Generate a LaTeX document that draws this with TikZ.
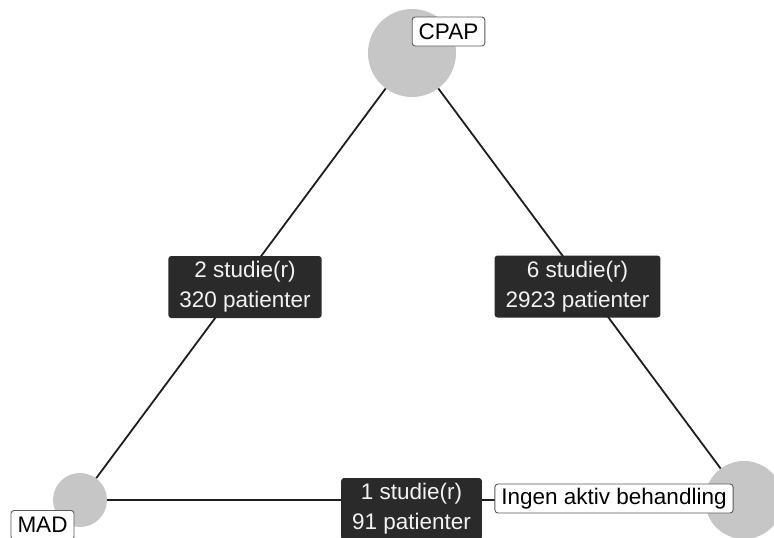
\documentclass[tikz,border=0pt]{standalone}
\usepackage{fontspec}
\setmainfont{Liberation Sans}
\definecolor{circgray}{HTML}{C6C6C6}
\definecolor{darkbox}{HTML}{2A2A2A}
\definecolor{boxtext}{HTML}{F2F2F2}
\definecolor{linecol}{HTML}{1E1E1E}
\definecolor{lblborder}{HTML}{5A5A5A}
\begin{document}
\begin{tikzpicture}[x=1pt,y=-1pt,
  trt/.style={circle,fill=circgray,draw=none,inner sep=0pt},
  lbl/.style={draw=lblborder,line width=0.9pt,fill=white,rounded corners=3pt,inner xsep=6.5pt,inner ysep=0pt,minimum height=29pt,font=\fontsize{22.5}{26}\selectfont,text=black},
  cmp/.style={fill=darkbox,rounded corners=3pt,text=boxtext,align=center,inner xsep=11pt,inner ysep=0pt,minimum height=62pt,font=\fontsize{22.5}{30}\selectfont},
  edgeline/.style={draw=linecol,line width=1.8pt}]
\useasboundingbox (0,0) rectangle (774,538);
% treatment circles
\node[trt,minimum size=88pt] (cpap) at (412,53) {};
\node[trt,minimum size=54pt] (mad) at (80,500) {};
\node[trt,minimum size=78pt] (ingen) at (744,500) {};
% connectors
\draw[edgeline] (mad) -- (cpap);
\draw[edgeline] (cpap) -- (ingen);
\draw[edgeline] (mad) -- (ingen);
% comparison boxes
\node[cmp] (e1) at (245,287) {2 studie(r)\\320 patienter};
\node[cmp] (e2) at (577.5,286.5) {6 studie(r)\\2923 patienter};
\node[cmp] (e3) at (411.5,509) {1 studie(r)\\91 patienter};
% labels
\node[lbl] (lcpap) at (448.5,31.5) {CPAP};
\node[lbl] (lmad) at (42.5,525) {MAD};
\node[lbl] (lingen) at (614,498.5) {Ingen aktiv behandling};
\end{tikzpicture}
\end{document}
